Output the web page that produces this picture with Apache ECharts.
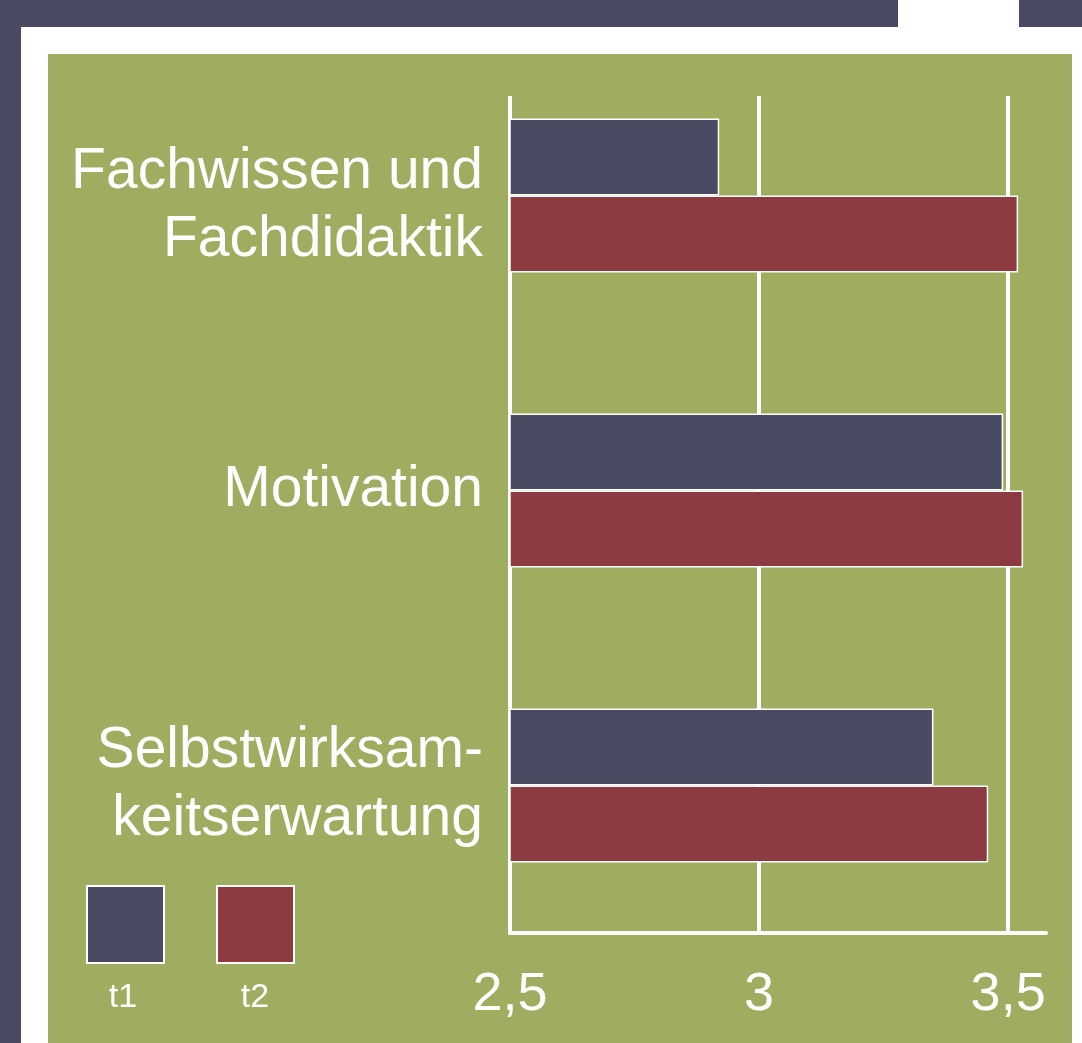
<!DOCTYPE html>
<html>
<head>
<meta charset="utf-8">
<style>
  html, body { margin: 0; padding: 0; background: #ffffff; }
  #chart { width: 1082px; height: 1043px; }
</style>
<script src="https://cdn.jsdelivr.net/npm/echarts@6/dist/echarts.min.js"></script>
</head>
<body>
<div id="chart"></div>
<script>
// ---- data ----
var categories = ['Fachwissen und\nFachdidaktik', 'Motivation', 'Selbstwirksam-\nkeitserwartung'];
var seriesNames = ['t1', 't2'];
var t1Values = [2.92, 3.49, 3.35];
var t2Values = [3.52, 3.53, 3.46];
var tickLabels = { '2.5': '2,5', '3': '3', '3.5': '3,5' };

// ---- styles ----
var DARK = '#494a62';
var RED = '#8d3a41';
var GREEN = '#9ead5f';
var FONT = '"Liberation Sans", Arial, Helvetica, sans-serif';

var chart = echarts.init(document.getElementById('chart'), null, { renderer: 'canvas' });

var option = {
  backgroundColor: '#ffffff',
  animation: false,
  graphic: [
    { type: 'rect', z: -20, silent: true, shape: { x: 0, y: 0, width: 898, height: 27 }, style: { fill: DARK } },
    { type: 'rect', z: -20, silent: true, shape: { x: 1019, y: 0, width: 63, height: 27 }, style: { fill: DARK } },
    { type: 'rect', z: -20, silent: true, shape: { x: 0, y: 0, width: 21, height: 1043 }, style: { fill: DARK } },
    { type: 'rect', z: -20, silent: true, shape: { x: 48, y: 54, width: 1024, height: 989 }, style: { fill: GREEN } },
    // hide axis/grid lines above their visible start
    { type: 'rect', z: 1, silent: true, shape: { x: 495, y: 54, width: 570, height: 42 }, style: { fill: GREEN } },
    { type: 'text', z: 5, silent: true, x: 123, y: 998,
      style: { text: seriesNames[0], fill: '#ffffff', font: '34px ' + FONT, textAlign: 'center', textVerticalAlign: 'middle' } },
    { type: 'text', z: 5, silent: true, x: 255, y: 998,
      style: { text: seriesNames[1], fill: '#ffffff', font: '34px ' + FONT, textAlign: 'center', textVerticalAlign: 'middle' } }
  ],
  legend: {
    left: 86,
    top: 885,
    padding: 0,
    orient: 'horizontal',
    icon: 'rect',
    itemWidth: 77,
    itemHeight: 77,
    itemGap: 51,
    selectedMode: false,
    data: seriesNames,
    formatter: function () { return ''; },
    textStyle: { fontSize: 1 }
  },
  grid: {
    left: 510,
    right: 36,
    top: 48,
    bottom: 110,
    containLabel: false
  },
  xAxis: {
    type: 'value',
    min: 2.5,
    max: 3.576,
    interval: 0.5,
    axisLine: { show: true, lineStyle: { color: '#ffffff', width: 4 } },
    axisTick: { show: false },
    splitLine: { show: true, showMinLine: false, showMaxLine: false, lineStyle: { color: '#ffffff', width: 4 } },
    axisLabel: {
      color: '#ffffff',
      fontSize: 54,
      fontFamily: FONT,
      margin: 35,
      showMinLabel: true,
      showMaxLabel: false,
      formatter: function (v) {
        var key = String(Math.round(v * 10) / 10);
        return tickLabels[key] !== undefined ? tickLabels[key] : '';
      }
    }
  },
  yAxis: {
    type: 'category',
    data: categories,
    inverse: true,
    axisLine: { show: true, lineStyle: { color: '#ffffff', width: 4 } },
    axisTick: { show: false },
    splitLine: { show: false },
    axisLabel: {
      color: '#ffffff',
      fontSize: 57,
      fontFamily: FONT,
      lineHeight: 68,
      margin: 27,
      align: 'right',
      formatter: function (value, index) {
        if (index === 0) {
          return '{s| }\n' + value.split('\n').map(function (l) { return '{a|' + l + '}'; }).join('\n');
        }
        return value;
      },
      rich: {
        s: { fontSize: 1, lineHeight: 22, color: '#ffffff', fontFamily: FONT },
        a: { fontSize: 57, lineHeight: 68, color: '#ffffff', fontFamily: FONT }
      }
    }
  },
  series: [
    {
      name: seriesNames[0],
      type: 'bar',
      data: t1Values,
      barWidth: 77,
      barGap: '0%',
      itemStyle: { color: DARK, borderColor: '#ffffff', borderWidth: 1.5 }
    },
    {
      name: seriesNames[1],
      type: 'bar',
      data: t2Values,
      barWidth: 77,
      barGap: '0%',
      itemStyle: { color: RED, borderColor: '#ffffff', borderWidth: 1.5 }
    }
  ]
};

chart.setOption(option);
</script>
</body>
</html>
